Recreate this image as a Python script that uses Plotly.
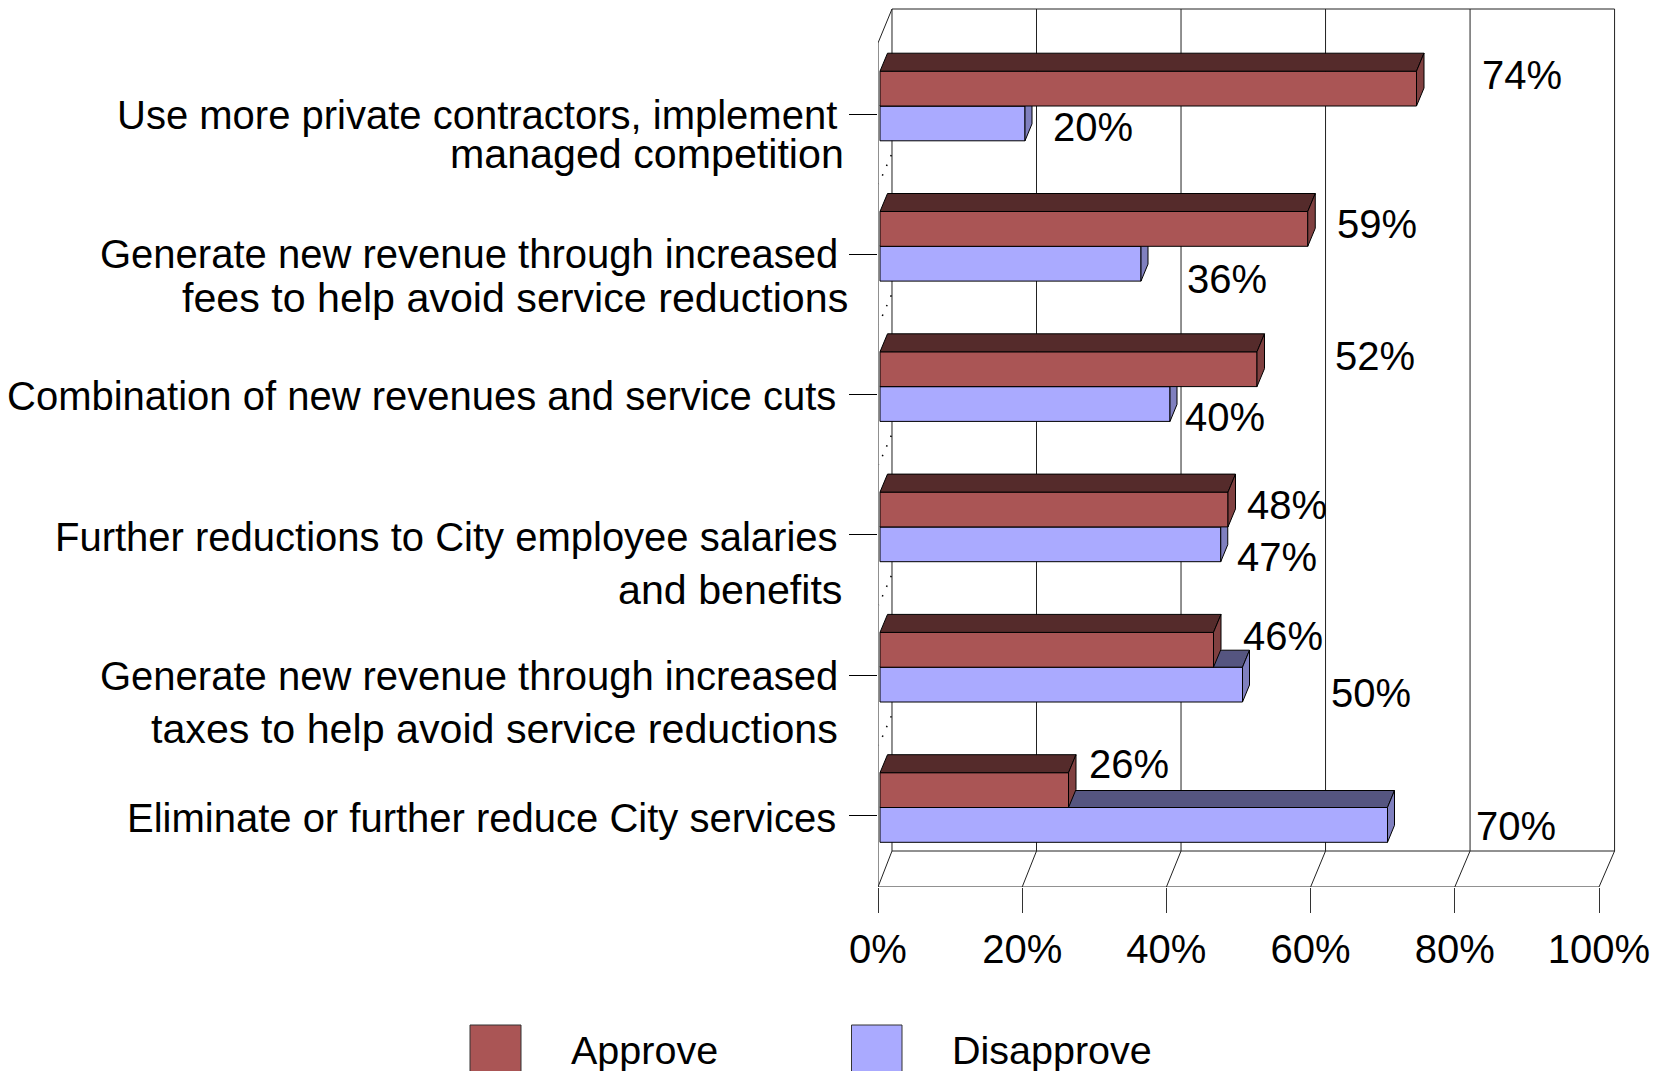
import plotly.graph_objects as go

# ---- data ----
CATEGORY_LINES = [
    ["Use more private contractors, implement", "managed competition"],
    ["Generate new revenue through increased", "fees to help avoid service reductions"],
    ["Combination of new revenues and service cuts"],
    ["Further reductions to City employee salaries", "and benefits"],
    ["Generate new revenue through increased", "taxes to help avoid service reductions"],
    ["Eliminate or further reduce City services"],
]
APPROVE = [74, 59, 52, 48, 46, 26]
DISAPPROVE = [20, 36, 40, 47, 50, 70]
X_TICKS = [0, 20, 40, 60, 80, 100]

# ---- layout constants (pixels of the 1667x1071 page) ----
W, H = 1667, 1071
L, R, T, B = 878, 1620, 5, 887
ROW0, ROW_STEP = 114, 140.3
FRAME_SCALE = 7.21
BAR_X0, BAR_SCALE = 880, 7.25
FONT = "Liberation Sans"
FS = 40
FS_SECOND_LINE = 41.2
FS_LEGEND = 39.5

CAT_TEXT_POS = [
    [(838.6, 115), (846, 154)],
    [(840, 254), (850, 298)],
    [(837.5, 395.5)],
    [(839.5, 536.5), (844, 589.5)],
    [(840, 676), (840, 729)],
    [(837.5, 817.5)],
]
APPROVE_LABEL_POS = [(1522, 75), (1377, 224), (1375, 356), (1287, 504.5), (1283, 636), (1129, 764)]
DISAPPROVE_LABEL_POS = [(1093, 127.5), (1227, 278.5), (1225, 416.5), (1277, 556.5), (1371, 693), (1516, 826)]

C_APP = ("#AA5555", "#552B2B", "#804040")
C_DIS = ("#AAAAFF", "#555580", "#8080BF")


def pxx(p):
    return (p - L) / (R - L)


def pxy(p):
    return (B - p) / (B - T)


def yval(p):
    return (p - ROW0) / ROW_STEP


y_range = [yval(B), yval(T)]
frame_range = [0, (R - L) / FRAME_SCALE]
bar_range = [(L - BAR_X0) / BAR_SCALE, (R - BAR_X0) / BAR_SCALE]
rows = list(range(len(CATEGORY_LINES)))
cats = [" ".join(c) for c in CATEGORY_LINES]

BAR_H = 34.8 / ROW_STEP
SPLIT = -8 / ROW_STEP

fig = go.Figure()

# ---- frame: walls, floor and grid ----
back_top, back_bot = yval(9), yval(851)
front_top = yval(43)
fx, fy = [], []


def back_x(v):
    return 1.94 + 1.0022 * v


for v in X_TICKS:
    fx += [back_x(v), back_x(v), v, None]
    fy += [back_top, back_bot, yval(B), None]
fx += [back_x(0), back_x(100), None, back_x(0), back_x(100), None, 0, 0, back_x(0), None, 0, 100, None]
fy += [back_top, back_top, None, back_bot, back_bot, None, yval(B), front_top, back_top, None, yval(B), yval(B), None]
fig.add_trace(go.Scatter(x=fx, y=fy, mode="lines", line=dict(color="#222222", width=1),
                         hoverinfo="skip", showlegend=False, cliponaxis=False))

dx, dy = [], []
for i in rows[:-1]:
    dx += [back_x(0) - 0.1, 0.1, None]
    dy += [i + 41 / ROW_STEP, i + 70 / ROW_STEP, None]
fig.add_trace(go.Scatter(x=dx, y=dy, mode="lines", line=dict(color="#000000", width=1.5, dash="1.5px,9px"),
                         hoverinfo="skip", showlegend=False, cliponaxis=False))


def add_series(name, values, offset, colors, xa, ya, ddx_px, ddy_px):
    fig.add_trace(go.Bar(name=name, y=rows, x=values, orientation="h", width=BAR_H, offset=offset,
                         marker=dict(color=colors[0], line=dict(color="#000000", width=1)),
                         xaxis=xa, yaxis=ya, showlegend=False))
    ddx, ddy = ddx_px / BAR_SCALE, ddy_px / ROW_STEP
    tx, ty, sx, sy = [], [], [], []
    for i, v in zip(rows, values):
        yt, yb = i + offset, i + offset + BAR_H
        tx += [0, v, v + ddx, ddx, 0, None]
        ty += [yt, yt, yt - ddy, yt - ddy, yt, None]
        sx += [v, v + ddx, v + ddx, v, v, None]
        sy += [yt, yt - ddy, yb - ddy, yb, yt, None]
    for px_, py_, col in ((tx, ty, colors[1]), (sx, sy, colors[2])):
        fig.add_trace(go.Scatter(x=px_, y=py_, mode="lines", fill="toself", fillcolor=col,
                                 line=dict(color="#000000", width=1), xaxis=xa, yaxis=ya,
                                 hoverinfo="skip", showlegend=False, cliponaxis=False))


add_series("Disapprove", DISAPPROVE, SPLIT, C_DIS, "x2", "y2", 7, 17)
add_series("Approve", APPROVE, SPLIT - BAR_H, C_APP, "x3", "y3", 7.5, 18)

# ---- text ----
annotations = []


def text(s, x, y, anchor="center", size=FS):
    annotations.append(dict(text=s, xref="paper", yref="paper", x=pxx(x), y=pxy(y), xanchor=anchor,
                            yanchor="middle", showarrow=False, font=dict(family=FONT, size=size, color="#000000")))


for lines, poss in zip(CATEGORY_LINES, CAT_TEXT_POS):
    for n, (s, (x, y)) in enumerate(zip(lines, poss)):
        text(s, x, y, "right", FS_SECOND_LINE if n else FS)
for v, (x, y) in zip(APPROVE, APPROVE_LABEL_POS):
    text(f"{v}%", x, y)
for v, (x, y) in zip(DISAPPROVE, DISAPPROVE_LABEL_POS):
    text(f"{v}%", x, y)

# ---- legend (swatches run off the bottom of the page, as in the reference) ----
shapes = []
for name, col, x0, x1, tx in (("Approve", C_APP[0], 470, 521, 569), ("Disapprove", C_DIS[0], 851.5, 902, 950)):
    shapes.append(dict(type="rect", xref="paper", yref="paper", x0=pxx(x0), x1=pxx(x1), y0=pxy(1085), y1=pxy(1025),
                       fillcolor=col, line=dict(color="#333333", width=1)))
    text(name, tx, 1050, "left", FS_LEGEND)

hidden = dict(visible=False, showgrid=False, zeroline=False)
fig.update_layout(
    width=W, height=H, autosize=False,
    margin=dict(l=L, r=W - R, t=T, b=H - B, pad=0),
    paper_bgcolor="#FFFFFF", plot_bgcolor="#FFFFFF",
    barmode="overlay", showlegend=False,
    font=dict(family=FONT, size=FS, color="#000000"),
    annotations=annotations, shapes=shapes,
    xaxis=dict(range=frame_range, tickmode="array", tickvals=X_TICKS, ticktext=[f"{v}%" for v in X_TICKS],
               ticks="outside", ticklen=25, tickwidth=1, tickcolor="#333333", showgrid=False, zeroline=False,
               showline=False, ticklabelstandoff=2,
               tickfont=dict(family=FONT, size=FS, color="#000000")),
    yaxis=dict(range=y_range, tickmode="array", tickvals=rows, ticktext=cats, showticklabels=False,
               ticks="outside", ticklen=28, tickwidth=1, tickcolor="#000000", showgrid=False, zeroline=False,
               showline=False),
    xaxis2=dict(range=bar_range, overlaying="x", anchor="y2", **hidden),
    yaxis2=dict(range=y_range, overlaying="y", anchor="x2", **hidden),
    xaxis3=dict(range=bar_range, overlaying="x", anchor="y3", **hidden),
    yaxis3=dict(range=y_range, overlaying="y", anchor="x3", **hidden),
)

fig.write_html("out.html", config={"displayModeBar": False},
               post_script="document.body.style.margin='0';document.body.style.overflow='hidden';")
